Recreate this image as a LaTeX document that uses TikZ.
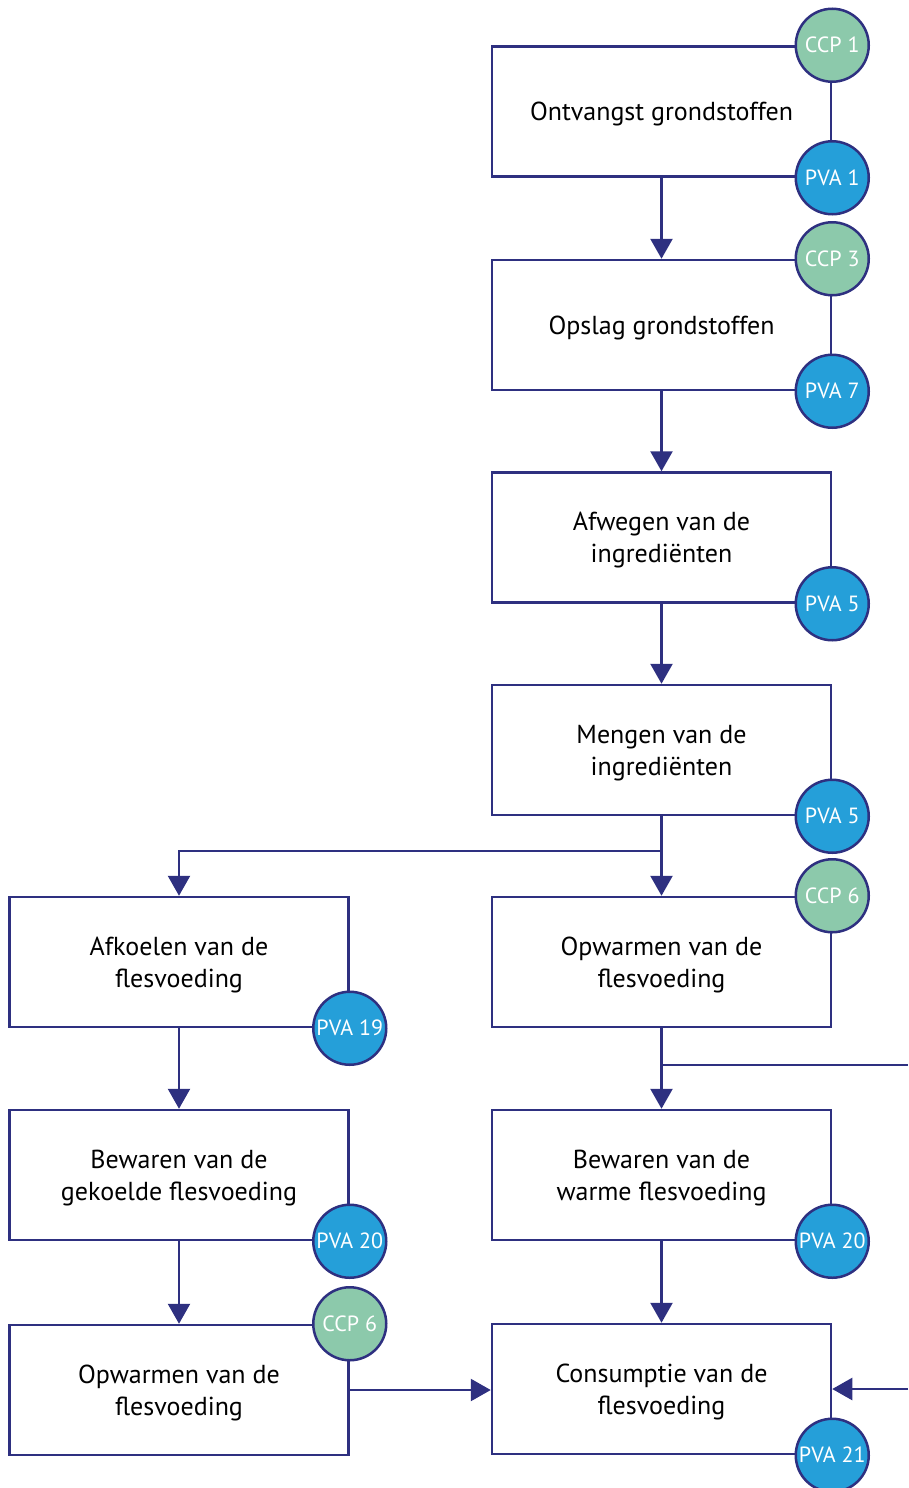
\documentclass[tikz,border=0pt]{standalone}
\usepackage{fontspec}
\setmainfont{PT Sans}
\usetikzlibrary{arrows.meta,calc}
\definecolor{navy}{HTML}{2E3080}
\definecolor{ccpgreen}{HTML}{8CC9AB}
\definecolor{pvablue}{HTML}{259FD9}
\tikzset{
  stepbox/.style={draw=navy,line width=2.5pt,fill=white,minimum width=339pt,minimum height=130pt,inner sep=0pt,align=center,text depth=0pt,font=\fontsize{26}{32}\selectfont,text=black},
  ccp/.style={circle,draw=navy,line width=2.5pt,fill=ccpgreen,minimum size=73pt,inner sep=0pt,text=white,font=\fontsize{22}{24}\selectfont},
  pva/.style={circle,draw=navy,line width=2.5pt,fill=pvablue,minimum size=73pt,inner sep=0pt,text=white,font=\fontsize{22}{24}\selectfont},
  conn/.style={draw=navy,line width=2.5pt},
  arr/.style={conn,-{Triangle[width=22pt,length=20pt]}}
}
\begin{document}
\begin{tikzpicture}[x=1pt,y=-1pt]
\useasboundingbox (0,0) rectangle (908,1488);
% right column
\node[stepbox] (ont) at (661.5,111.5) {Ontvangst grondstoffen};
\node[stepbox] (ops) at (661.5,325) {Opslag grondstoffen};
\node[stepbox] (afw) at (661.5,537.5) {Afwegen van de\\ingrediënten};
\node[stepbox] (men) at (661.5,750) {Mengen van de\\ingrediënten};
\node[stepbox] (opR) at (661.5,962) {Opwarmen van de\\flesvoeding};
\node[stepbox] (bwR) at (661.5,1175) {Bewaren van de\\warme flesvoeding};
\node[stepbox] (con) at (661.5,1389) {Consumptie van de\\flesvoeding};
% left column
\node[stepbox] (afk) at (179,962) {Afkoelen van de\\flesvoeding};
\node[stepbox] (bwL) at (179,1175) {Bewaren van de\\gekoelde flesvoeding};
\node[stepbox] (opL) at (179,1390) {Opwarmen van de\\flesvoeding};
% connectors
\coordinate (br) at (0,851);
\coordinate (eA) at (908,1065);
\coordinate (eB) at (908,1389);
\draw[arr] (ont.south) -- (ops.north);
\draw[arr] (ops.south) -- (afw.north);
\draw[arr] (afw.south) -- (men.north);
\draw[arr] (men.south) -- (opR.north);
\draw[conn] (men.south) -- (men.south |- br);
\draw[arr] (men.south |- br) -| (afk.north);
\draw[arr] (opR.south) -- (bwR.north);
\draw[conn] (opR.south |- eA) -- (eA);
\draw[arr] (bwR.south) -- (con.north);
\draw[arr] (eB) -- (con.east);
\draw[arr] (afk.south) -- (bwL.north);
\draw[arr] (bwL.south) -- (opL.north);
\draw[arr] (opL.east) -- (con.west |- opL.east);
% markers
\node[ccp] (c1) at (ont.north east) {CCP 1};
\node[pva] (p1) at (ont.south east) {PVA 1};
\node[ccp] (c3) at (ops.north east) {CCP 3};
\node[pva] (p7) at (ops.south east) {PVA 7};
\node[pva] (p5a) at (afw.south east) {PVA 5};
\node[pva] (p5b) at (men.south east) {PVA 5};
\node[ccp] (c6a) at (opR.north east) {CCP 6};
\node[pva] (p19) at (afk.south east) {PVA 19};
\node[pva] (p20a) at (bwL.south east) {PVA 20};
\node[pva] (p20b) at (bwR.south east) {PVA 20};
\node[ccp] (c6b) at (opL.north east) {CCP 6};
\node[pva] (p21) at (con.south east) {PVA 21};
\end{tikzpicture}
\end{document}
